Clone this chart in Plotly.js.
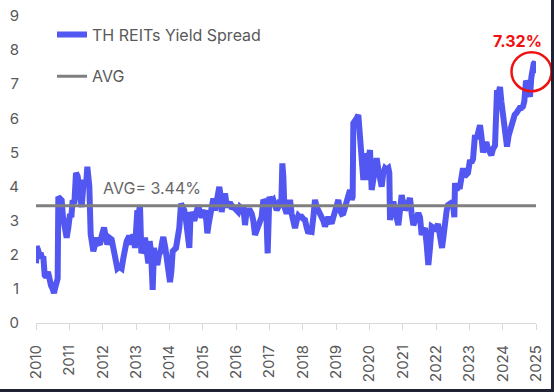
<!DOCTYPE html>
<html>
<head>
<meta charset="utf-8">
<script src="https://cdn.plot.ly/plotly-3.0.1.min.js"></script>
<style>
  html, body { margin: 0; padding: 0; background: #1f2232; width: 554px; height: 392px; overflow: hidden; }
  #chart { width: 551px; height: 389px; background: #ffffff; }
</style>
</head>
<body>
<div id="chart"></div>
<script>
// Time in decimal years
const years = [
  2010.00, 2010.02, 2010.06, 2010.10, 2010.14, 2010.18, 2010.22, 2010.26, 2010.30, 2010.36,
  2010.40, 2010.45, 2010.50, 2010.54, 2010.58, 2010.62, 2010.65, 2010.67, 2010.72, 2010.77,
  2010.81, 2010.86, 2010.92, 2010.97, 2011.02, 2011.06, 2011.10, 2011.15, 2011.20, 2011.25,
  2011.30, 2011.34, 2011.37, 2011.41, 2011.44, 2011.50, 2011.54, 2011.58, 2011.60, 2011.64,
  2011.68, 2011.72, 2011.77, 2011.82, 2011.87, 2011.92, 2011.97, 2012.04, 2012.08, 2012.14,
  2012.20, 2012.27, 2012.32, 2012.36, 2012.40, 2012.44, 2012.50, 2012.57, 2012.62, 2012.67,
  2012.72, 2012.77, 2012.82, 2012.87, 2012.92, 2012.97, 2013.00, 2013.04, 2013.08, 2013.12,
  2013.16, 2013.22, 2013.27, 2013.31, 2013.37, 2013.41, 2013.45, 2013.50, 2013.54, 2013.59,
  2013.64, 2013.69, 2013.74, 2013.79, 2013.82, 2013.88, 2013.93, 2013.97, 2014.02, 2014.06,
  2014.10, 2014.15, 2014.20, 2014.25, 2014.30, 2014.35, 2014.40, 2014.45, 2014.50, 2014.54,
  2014.57, 2014.60, 2014.64, 2014.70, 2014.75, 2014.80, 2014.87, 2014.92, 2014.97, 2015.02,
  2015.07, 2015.11, 2015.14, 2015.18, 2015.22, 2015.27, 2015.32, 2015.37, 2015.44, 2015.50,
  2015.54, 2015.57, 2015.62, 2015.67, 2015.72, 2015.77, 2015.82, 2015.87, 2015.92, 2016.02,
  2016.07, 2016.12, 2016.17, 2016.22, 2016.27, 2016.32, 2016.37, 2016.42, 2016.47, 2016.52,
  2016.57, 2016.62, 2016.67, 2016.72, 2016.77, 2016.82, 2016.90, 2016.95, 2017.00, 2017.06,
  2017.12, 2017.17, 2017.22, 2017.27, 2017.32, 2017.36, 2017.39, 2017.42, 2017.45, 2017.52,
  2017.57, 2017.62, 2017.67, 2017.72, 2017.77, 2017.82, 2017.87, 2017.92, 2017.97, 2018.02,
  2018.07, 2018.12, 2018.17, 2018.22, 2018.27, 2018.32, 2018.37, 2018.42, 2018.47, 2018.52,
  2018.57, 2018.62, 2018.67, 2018.72, 2018.77, 2018.82, 2018.87, 2018.92, 2018.97, 2019.03,
  2019.07, 2019.12, 2019.17, 2019.22, 2019.27, 2019.32, 2019.37, 2019.42, 2019.47, 2019.50,
  2019.52, 2019.56, 2019.62, 2019.67, 2019.72, 2019.77, 2019.82, 2019.85, 2019.88, 2019.92,
  2019.97, 2020.02, 2020.07, 2020.12, 2020.17, 2020.22, 2020.27, 2020.32, 2020.37, 2020.42,
  2020.47, 2020.52, 2020.57, 2020.60, 2020.62, 2020.67, 2020.72, 2020.77, 2020.82, 2020.87,
  2020.92, 2020.97, 2021.02, 2021.07, 2021.12, 2021.17, 2021.22, 2021.27, 2021.32, 2021.37,
  2021.42, 2021.47, 2021.52, 2021.57, 2021.62, 2021.67, 2021.72, 2021.77, 2021.82, 2021.87,
  2021.92, 2021.97, 2022.06, 2022.12, 2022.18, 2022.22, 2022.27, 2022.32, 2022.36, 2022.42,
  2022.47, 2022.51, 2022.55, 2022.57, 2022.62, 2022.67, 2022.72, 2022.77, 2022.81, 2022.86,
  2022.92, 2022.96, 2023.02, 2023.06, 2023.11, 2023.17, 2023.22, 2023.27, 2023.32, 2023.36,
  2023.41, 2023.46, 2023.51, 2023.56, 2023.61, 2023.66, 2023.71, 2023.77, 2023.80, 2023.83,
  2023.88, 2023.92, 2023.96, 2024.00, 2024.05, 2024.10, 2024.13, 2024.18, 2024.22, 2024.27,
  2024.31, 2024.36, 2024.41, 2024.46, 2024.51, 2024.56, 2024.61, 2024.65, 2024.70, 2024.75,
  2024.80, 2024.82, 2024.86, 2024.88, 2024.93, 2024.97, 2025.00
];

// TH REITs yield spread (%)
const spread = [
  1.75, 2.25, 2.15, 2.00, 2.05, 1.90, 1.95, 1.40, 1.35, 1.50,
  1.25, 1.10, 1.00, 0.88, 1.05, 1.20, 1.30, 3.70, 3.60, 3.60,
  3.10, 2.90, 2.50, 2.80, 3.20, 3.10, 3.60, 3.50, 4.40, 4.30,
  4.00, 3.60, 3.40, 3.90, 4.20, 4.00, 4.58, 4.20, 4.00, 2.60,
  2.30, 2.10, 2.30, 2.50, 2.35, 2.30, 2.55, 2.80, 2.60, 2.30,
  2.50, 2.45, 2.20, 2.00, 1.85, 1.60, 1.65, 1.60, 1.90, 2.23,
  2.40, 2.50, 2.50, 2.30, 2.60, 2.20, 2.90, 3.30, 3.20, 3.45,
  2.05, 2.20, 2.50, 2.20, 1.75, 2.40, 2.10, 0.97, 2.20, 1.90,
  1.70, 2.00, 2.10, 2.40, 2.52, 2.20, 1.90, 1.75, 1.20, 1.50,
  2.10, 2.15, 2.20, 2.50, 2.80, 3.50, 3.40, 3.30, 3.00, 2.75,
  2.50, 2.20, 3.25, 3.10, 3.00, 3.20, 3.45, 3.20, 3.10, 3.20,
  3.30, 3.00, 2.63, 2.90, 3.10, 3.35, 3.65, 3.30, 3.70, 3.99,
  3.70, 3.25, 3.60, 3.80, 3.45, 3.45, 3.55, 3.35, 3.40, 3.31,
  3.25, 3.40, 3.35, 3.41, 2.87, 3.30, 3.31, 3.30, 3.21, 3.00,
  2.58, 2.75, 2.83, 3.00, 3.11, 3.61, 3.51, 2.04, 3.70, 3.55,
  3.61, 3.45, 3.31, 3.40, 3.61, 3.50, 4.68, 4.30, 3.41, 3.21,
  3.40, 3.61, 3.20, 2.83, 2.78, 3.00, 3.15, 3.10, 3.11, 3.05,
  3.02, 2.80, 2.63, 2.70, 2.68, 3.10, 3.61, 3.40, 3.31, 3.20,
  3.15, 3.00, 2.83, 2.95, 3.11, 3.00, 2.92, 3.10, 3.31, 3.50,
  3.61, 3.30, 3.20, 3.22, 3.40, 3.61, 3.85, 3.90, 3.61, 3.70,
  5.86, 5.90, 6.00, 6.10, 5.37, 4.80, 4.19, 4.98, 4.19, 4.60,
  4.90, 5.07, 3.90, 4.30, 4.60, 4.83, 4.50, 4.20, 4.00, 4.40,
  4.54, 4.50, 4.54, 4.40, 3.02, 3.30, 3.56, 3.30, 3.00, 2.87,
  3.30, 3.75, 3.50, 3.31, 3.40, 3.50, 3.66, 3.20, 2.87, 3.00,
  3.20, 3.22, 3.10, 2.58, 2.70, 2.78, 2.30, 1.70, 2.20, 2.83,
  2.80, 2.70, 2.90, 2.60, 2.20, 2.50, 3.10, 3.30, 3.46, 3.50,
  3.40, 3.50, 3.10, 4.10, 3.90, 4.00, 4.00, 4.30, 4.54, 4.30,
  4.40, 4.40, 4.78, 4.70, 4.80, 5.51, 5.40, 5.60, 5.80, 5.50,
  5.00, 5.20, 5.30, 5.10, 5.00, 4.92, 5.10, 5.20, 6.00, 6.83,
  6.75, 6.92, 6.50, 6.15, 5.70, 5.30, 5.17, 5.50, 5.65, 5.80,
  6.00, 6.10, 6.15, 6.24, 6.30, 6.30, 6.35, 6.50, 7.10, 7.00,
  6.80, 6.63, 7.20, 7.50, 7.60, 7.65, 7.32
];

const avgValue = 3.44;
const avgYears = [2010, 2025];
const avgLine = [avgValue, avgValue];

const yearTicks = [2010, 2011, 2012, 2013, 2014, 2015, 2016, 2017, 2018, 2019, 2020, 2021, 2022, 2023, 2024, 2025];
const yearLabels = yearTicks.map(String);
const seriesNames = ['TH REITs Yield Spread', 'AVG'];
const avgLabel = 'AVG= 3.44%';
const lastLabel = '7.32%';

const FONT = 'Inter, "Noto Sans", Arial, sans-serif';

const traces = [
  {
    x: years, y: spread, type: 'scatter', mode: 'lines',
    name: seriesNames[0], legendgroup: 'a',
    line: { color: '#5357f2', width: 6 }
  },
  {
    x: avgYears, y: avgLine, type: 'scatter', mode: 'lines',
    name: seriesNames[1], legendgroup: 'b',
    line: { color: '#7f7f7f', width: 3 }
  }
];

const layout = {
  width: 551, height: 389,
  margin: { l: 36, r: 15, t: 16, b: 66 },
  paper_bgcolor: '#ffffff', plot_bgcolor: '#ffffff',
  font: { family: FONT, color: '#595959', size: 15 },
  showlegend: true,
  legend: {
    x: 0.032, y: 0.995, xanchor: 'left', yanchor: 'top',
    bgcolor: 'rgba(0,0,0,0)', font: { size: 16, color: '#595959', family: FONT },
    traceorder: 'grouped', tracegroupgap: 18
  },
  xaxis: {
    range: [2010, 2025], tickvals: yearTicks, ticktext: yearLabels,
    tickangle: -90, showgrid: false, zeroline: false,
    showline: true, linecolor: '#d9d9d9', linewidth: 1,
    ticks: 'outside', ticklen: 6, tickcolor: '#d9d9d9',
    tickfont: { size: 15, color: '#595959' }, ticklabelstandoff: 9
  },
  yaxis: {
    range: [0, 9], dtick: 1, tick0: 0, showgrid: false, zeroline: false,
    showline: false, ticks: '', tickfont: { size: 15, color: '#595959' },
    ticklabelstandoff: 16
  },
  annotations: [
    { x: 2011.95, y: 3.96, xref: 'x', yref: 'y', text: avgLabel, showarrow: false,
      xanchor: 'left', yanchor: 'middle', font: { size: 16, color: '#666666', family: FONT } },
    { x: 2024.43, y: 8.27, xref: 'x', yref: 'y', text: '<b>' + lastLabel + '</b>', showarrow: false,
      xanchor: 'center', yanchor: 'middle', font: { size: 16, color: '#f01010', family: FONT } }
  ],
  shapes: [
    { type: 'circle', xref: 'paper', yref: 'paper',
      x0: 0.951, x1: 1.031, y0: 0.755, y1: 0.882,
      line: { color: '#f01010', width: 2.5 }, fillcolor: 'rgba(0,0,0,0)', layer: 'above' }
  ]
};

Plotly.newPlot('chart', traces, layout, { displayModeBar: false, staticPlot: true });
</script>
</body>
</html>
